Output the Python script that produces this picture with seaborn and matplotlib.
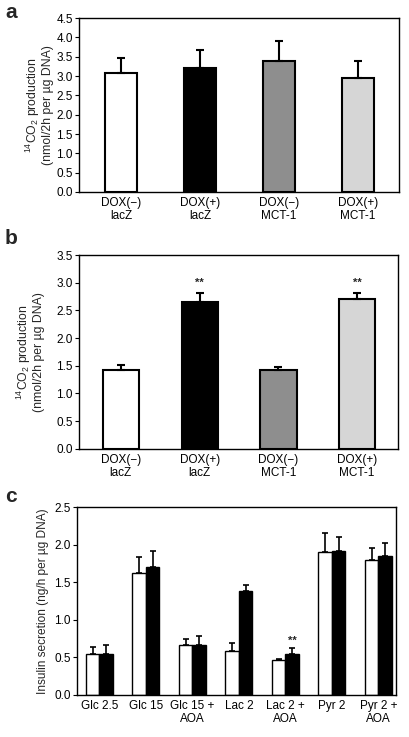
import matplotlib
matplotlib.use('Agg')
import matplotlib.pyplot as plt
import seaborn as sns
import pandas as pd
import numpy as np

# panel a / b
groups_ab = ['DOX(\u2212)\nlacZ', 'DOX(+)\nlacZ', 'DOX(\u2212)\nMCT-1', 'DOX(+)\nMCT-1']
colors_ab = ['white', 'black', '#8e8e8e', '#d6d6d6']
a_mean = [3.07, 3.20, 3.40, 2.95]
a_err = [0.40, 0.48, 0.50, 0.45]
b_mean = [1.43, 2.65, 1.42, 2.70]
b_err = [0.09, 0.17, 0.06, 0.12]
b_star = [False, True, False, True]

# panel c
groups_c = ['Glc 2.5', 'Glc 15', 'Glc 15 +\nAOA', 'Lac 2', 'Lac 2 +\nAOA', 'Pyr 2', 'Pyr 2 +\nAOA']
c_white = [0.55, 1.62, 0.67, 0.59, 0.46, 1.90, 1.79]
c_white_err = [0.09, 0.21, 0.07, 0.10, 0.02, 0.25, 0.16]
c_black = [0.55, 1.70, 0.66, 1.38, 0.54, 1.91, 1.85]
c_black_err = [0.11, 0.21, 0.12, 0.08, 0.09, 0.19, 0.17]
c_star_black = [False, False, False, False, True, False, False]

sns.set_theme(style='ticks')
plt.rcParams['font.family'] = ['Liberation Sans', 'DejaVu Sans']
plt.rcParams['mathtext.default'] = 'regular'

fig = plt.figure(figsize=(4.10, 7.37), dpi=100)
ax_a = fig.add_axes([0.193, 0.7395, 0.780, 0.236])
ax_b = fig.add_axes([0.193, 0.391, 0.778, 0.263])
ax_c = fig.add_axes([0.188, 0.057, 0.778, 0.255])

ylab_co2 = '$^{14}$CO$_2$ production\n(nmol/2h per \u00b5g DNA)'


def style_axes(ax):
    for s in ax.spines.values():
        s.set_visible(True)
        s.set_color('black')
        s.set_linewidth(1.0)
    ax.tick_params(axis='y', labelsize=8.5, length=3, width=0.8, pad=1.5, colors='black')
    ax.tick_params(axis='x', labelsize=8.5, length=0, pad=3.5, colors='black')
    for t in ax.get_xticklabels():
        t.set_linespacing(1.1)


def draw_single(ax, mean, err, ymax, width, labelpad, stars=None):
    df = pd.DataFrame({'group': groups_ab, 'value': mean})
    sns.barplot(data=df, x='group', y='value', hue='group', palette=colors_ab,
                edgecolor='black', linewidth=1.5, width=width, legend=False,
                errorbar=None, ax=ax)
    xs = np.arange(len(mean))
    ax.errorbar(xs, mean, yerr=[np.zeros(len(err)), err], fmt='none',
                ecolor='black', elinewidth=1.5, capsize=3, capthick=1.5)
    if stars is not None:
        for x, m, e, s in zip(xs, mean, err, stars):
            if s:
                ax.text(x, m + e + ymax * 0.025, '**', ha='center', va='bottom',
                        fontsize=8, fontweight='bold')
    ax.set_ylim(0, ymax)
    ax.set_xlim(-0.53, 3.52)
    ax.set_yticks(np.arange(0, ymax + 0.01, 0.5))
    ax.set_yticklabels([f'{v:.1f}' for v in np.arange(0, ymax + 0.01, 0.5)])
    ax.set_xlabel('')
    ax.set_ylabel(ylab_co2, fontsize=8.8, linespacing=1.0, labelpad=labelpad)
    style_axes(ax)


draw_single(ax_a, a_mean, a_err, 4.5, 0.41, 2)
draw_single(ax_b, b_mean, b_err, 3.5, 0.46, 8, b_star)

# panel c
df_c = pd.DataFrame({
    'group': groups_c * 2,
    'value': c_white + c_black,
    'cond': ['white'] * len(groups_c) + ['black'] * len(groups_c),
})
sns.barplot(data=df_c, x='group', y='value', hue='cond',
            palette={'white': 'white', 'black': 'black'},
            edgecolor='black', linewidth=1.0, width=0.58, legend=False,
            errorbar=None, ax=ax_c)
patches = [p for p in ax_c.patches if p.get_height() > 0]
xc = [p.get_x() + p.get_width() / 2 for p in patches]
vals = c_white + c_black
errs = c_white_err + c_black_err
stars = [False] * len(groups_c) + c_star_black
ax_c.errorbar(xc, vals, yerr=[np.zeros(len(errs)), errs], fmt='none',
              ecolor='black', elinewidth=1.2, capsize=2, capthick=1.2)
for x, v, e, s in zip(xc, vals, errs, stars):
    if s:
        ax_c.text(x, v + e + 0.02, '**', ha='center', va='bottom', fontsize=8, fontweight='bold')
ax_c.set_ylim(0, 2.5)
ax_c.set_xlim(-0.48, 6.38)
ax_c.set_yticks(np.arange(0, 2.51, 0.5))
ax_c.set_yticklabels([f'{v:.1f}' for v in np.arange(0, 2.51, 0.5)])
ax_c.set_xlabel('')
ax_c.set_ylabel('Insulin secretion (ng/h per \u00b5g DNA)', fontsize=8.6, labelpad=4)
style_axes(ax_c)

for lab, y in [('a', 0.996), ('b', 0.689), ('c', 0.339)]:
    fig.text(0.012, y, lab, fontsize=15, fontweight='bold', va='top', ha='left')

fig.savefig('out.png', dpi=100)
